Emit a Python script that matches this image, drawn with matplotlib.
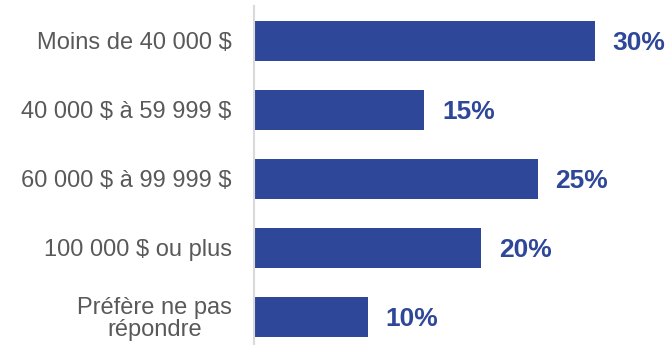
import matplotlib.pyplot as plt

plt.rcParams["font.family"] = ["Liberation Sans", "DejaVu Sans"]

categories = ["Moins de 40 000 \\$", "40 000 \\$ à 59 999 \\$", "60 000 \\$ à 99 999 \\$",
              "100 000 \\$ ou plus", "Préfère ne pas\nrépondre"]
values = [30, 15, 25, 20, 10]

bar_color = "#2F4798"

fig = plt.figure(figsize=(6.72, 3.45), dpi=100)
ax = fig.add_axes([254 / 672, 0.0, 1 - 254 / 672, 1 - 6 / 345])

pos = list(range(len(categories)))
bars = ax.barh(pos, values, height=0.58, color=bar_color)

for rect, v in zip(bars, values):
    ax.text(rect.get_width() + 1.55, rect.get_y() + rect.get_height() / 2 + 0.03,
            f"{v}%", va="center", ha="left", fontsize=19, fontweight="bold",
            color=bar_color)

ax.set_xlim(0, 36.8)
ax.set_ylim(4.406, -0.507)
ax.set_yticks(pos)
ax.set_yticklabels(categories, fontsize=17, color="#595959", linespacing=0.95,
                   ha="right", multialignment="center")
ax.tick_params(axis="y", length=0, pad=16)
ax.set_xticks([])

for side in ["top", "right", "bottom"]:
    ax.spines[side].set_visible(False)
ax.spines["left"].set_color("#D9D9D9")
ax.spines["left"].set_linewidth(1.5)

fig.savefig("out.png", dpi=100)
